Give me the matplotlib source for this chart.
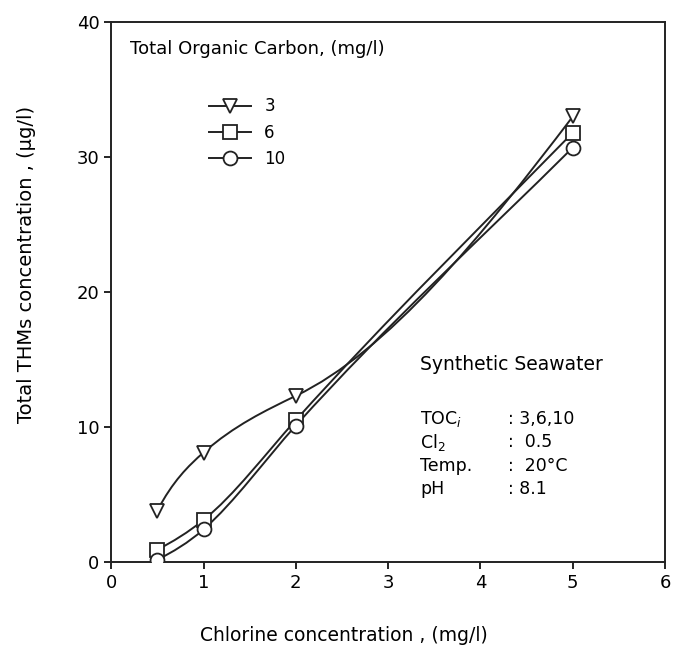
import numpy as np
import matplotlib
matplotlib.use("Agg")
import matplotlib.pyplot as plt
from matplotlib.path import Path
from matplotlib.patches import PathPatch
from matplotlib.lines import Line2D

plt.rcParams['font.family'] = ['DejaVu Sans']

# chlorine dose (mg/l)
chlorine = [0.5, 1, 2, 5]
# total THMs (ug/l) for each TOC level
toc_labels = ['3', '6', '10']
thm_toc3 = [3.8, 8.1, 12.3, 33.0]
thm_toc6 = [0.9, 3.1, 10.5, 31.8]
thm_toc10 = [0.15, 2.4, 10.1, 30.7]
# slope of the hand-drawn curve at each point
slope_toc3 = [13, 6, 3.3, 9]
slope_toc6 = [3.5, 5.5, 7.6, 7]
slope_toc10 = [3.5, 6, 7.6, 6.8]
markers = ['v', 's', 'o']

def smooth_path(x, y, m):
    # cubic hermite pieces through the points, as bezier segments
    verts = [(x[0], y[0])]
    codes = [Path.MOVETO]
    for i in range(len(x) - 1):
        h = (x[i + 1] - x[i]) / 3.0
        verts += [(x[i] + h, y[i] + h * m[i]),
                  (x[i + 1] - h, y[i + 1] - h * m[i + 1]),
                  (x[i + 1], y[i + 1])]
        codes += [Path.CURVE4] * 3
    return Path(verts, codes)

fig = plt.figure(figsize=(6.78, 6.48), dpi=100)
ax = fig.add_axes([0.164, 0.133, 0.817, 0.833])

handles = []
for ys, ms, m, lab in zip([thm_toc3, thm_toc6, thm_toc10],
                          [slope_toc3, slope_toc6, slope_toc10], markers, toc_labels):
    ax.add_patch(PathPatch(smooth_path(chlorine, ys, ms), fill=False,
                           lw=1.4, ec='#222222', zorder=2))
    ax.plot(chlorine, ys, ls='none', marker=m, ms=10, mfc='white',
            mec='#222222', mew=1.3, zorder=3)
    handles.append(Line2D([], [], color='#222222', lw=1.4, marker=m, ms=10,
                          mfc='white', mec='#222222', mew=1.3, label=lab))

ax.set_xlim(0, 6)
ax.set_ylim(0, 40)
ax.set_xticks(range(0, 7))
ax.set_yticks([0, 10, 20, 30, 40])
ax.tick_params(direction='out', length=5, width=1.2, labelsize=13)
for s in ax.spines.values():
    s.set_linewidth(1.4)
    s.set_color('#222222')

ax.set_xlabel('Chlorine concentration , (mg/l)', fontsize=13.5)
ax.xaxis.set_label_coords(0.42, -0.118)
ax.set_ylabel('Total THMs concentration , (\u03bcg/l)', fontsize=14)
ax.yaxis.set_label_coords(-0.135, 0.55)

ax.text(0.2, 38.0, 'Total Organic Carbon, (mg/l)', fontsize=13, va='center')
ax.legend(handles=handles, loc='upper left', bbox_to_anchor=(0.15, 0.888),
          frameon=False, handlelength=2.5, handletextpad=0.8,
          labelspacing=0.5, fontsize=12)

ax.text(3.35, 14.6, 'Synthetic Seawater', fontsize=13.5, va='center')
info_keys = ['TOC$_i$', 'Cl$_2$', 'Temp.', 'pH']
info_vals = [': 3,6,10', ':  0.5', ':  20\u00b0C', ': 8.1']
info_y = [10.55, 8.85, 7.1, 5.4]
for k, v, yy in zip(info_keys, info_vals, info_y):
    ax.text(3.35, yy, k, fontsize=12.5, va='center')
    ax.text(4.3, yy, v, fontsize=12.5, va='center')

fig.savefig('out.png', dpi=100, facecolor='white')
